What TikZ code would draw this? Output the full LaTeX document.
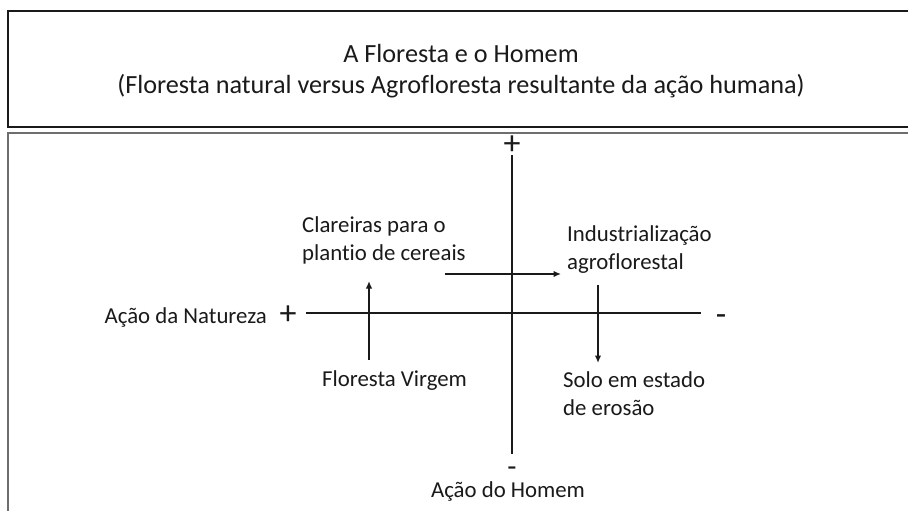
\documentclass[tikz,border=0pt]{standalone}
\usepackage{fontspec}
\setmainfont[Ligatures=NoCommon]{Carlito}
\usetikzlibrary{arrows.meta}
\definecolor{ink}{HTML}{1A1A1A}
\definecolor{framegray}{HTML}{6E6E6E}
\begin{document}
\begin{tikzpicture}[x=1pt,y=-1pt,
  lbl/.style={inner sep=0pt, text=ink, font=\fontsize{22.8}{28}\selectfont, align=left},
  ttl/.style={inner sep=0pt, text=ink, font=\fontsize{26.2}{30}\selectfont},
  sgn/.style={inner sep=0pt, text=ink, font=\fontsize{34}{34}\selectfont, anchor=base, text height=12pt, text depth=0pt},
  axisline/.style={draw=ink, line width=2.8pt},
  arr/.style={draw=ink, line width=1.8pt, -{Latex[length=7.5pt,width=6.5pt]}}]
\useasboundingbox (0,0) rectangle (908,511);
\clip (0,0) rectangle (908,511);
\fill[white] (0,0) rectangle (908,511);
% frames
\draw[draw=ink, line width=2.6pt] (8,11) rectangle (915,127);
\draw[draw=framegray, line width=2pt] (8,133) rectangle (915,520);
% title
\node[ttl, anchor=base] (t1) at (461,63) {A Floresta e o Homem};
\node[ttl, anchor=base] (t2) at (461,93) {(Floresta natural versus Agrofloresta resultante da ação humana)};
% axes
\coordinate (vtop) at (512,155);
\coordinate (vbot) at (512,454);
\coordinate (hl) at (306,313);
\coordinate (hr) at (701,313);
\draw[axisline] (vtop) -- (vbot);
\draw[axisline] (hl) -- (hr);
\node[sgn] (ptop) at (512,154) {+};
\node[sgn] (pleft) at (288,324) {+};
\node[sgn] (mright) at (721,325) {-};
\node[sgn, font=\fontsize{30}{30}\selectfont] (mbot) at (512,476) {-};
\node[lbl, anchor=base east] (nat) at (267,323) {Ação da Natureza};
\node[lbl, anchor=base, text height=15pt] (hom) at (508,497) {Ação do Homem};
% labels
\node[lbl, anchor=base west] (clar) at (302,260) {Clareiras para o\\plant\kern0pt io de cereais};
\node[lbl, anchor=base west] (ind) at (567,269) {Industrialização\\agroflorestal};
\node[lbl, anchor=base west] (flo) at (322,386) {Floresta Virgem};
\node[lbl, anchor=base west] (solo) at (563,415) {Solo em estado\\de erosão};
% arrows
\coordinate (a1s) at (369,360);
\coordinate (a1e) at (369,281);
\coordinate (a2s) at (445,274);
\coordinate (a2e) at (561,274);
\coordinate (a3s) at (598,285);
\coordinate (a3e) at (598,363);
\draw[arr] (a1s) -- (a1e);
\draw[arr] (a2s) -- (a2e);
\draw[arr] (a3s) -- (a3e);
\end{tikzpicture}
\end{document}
